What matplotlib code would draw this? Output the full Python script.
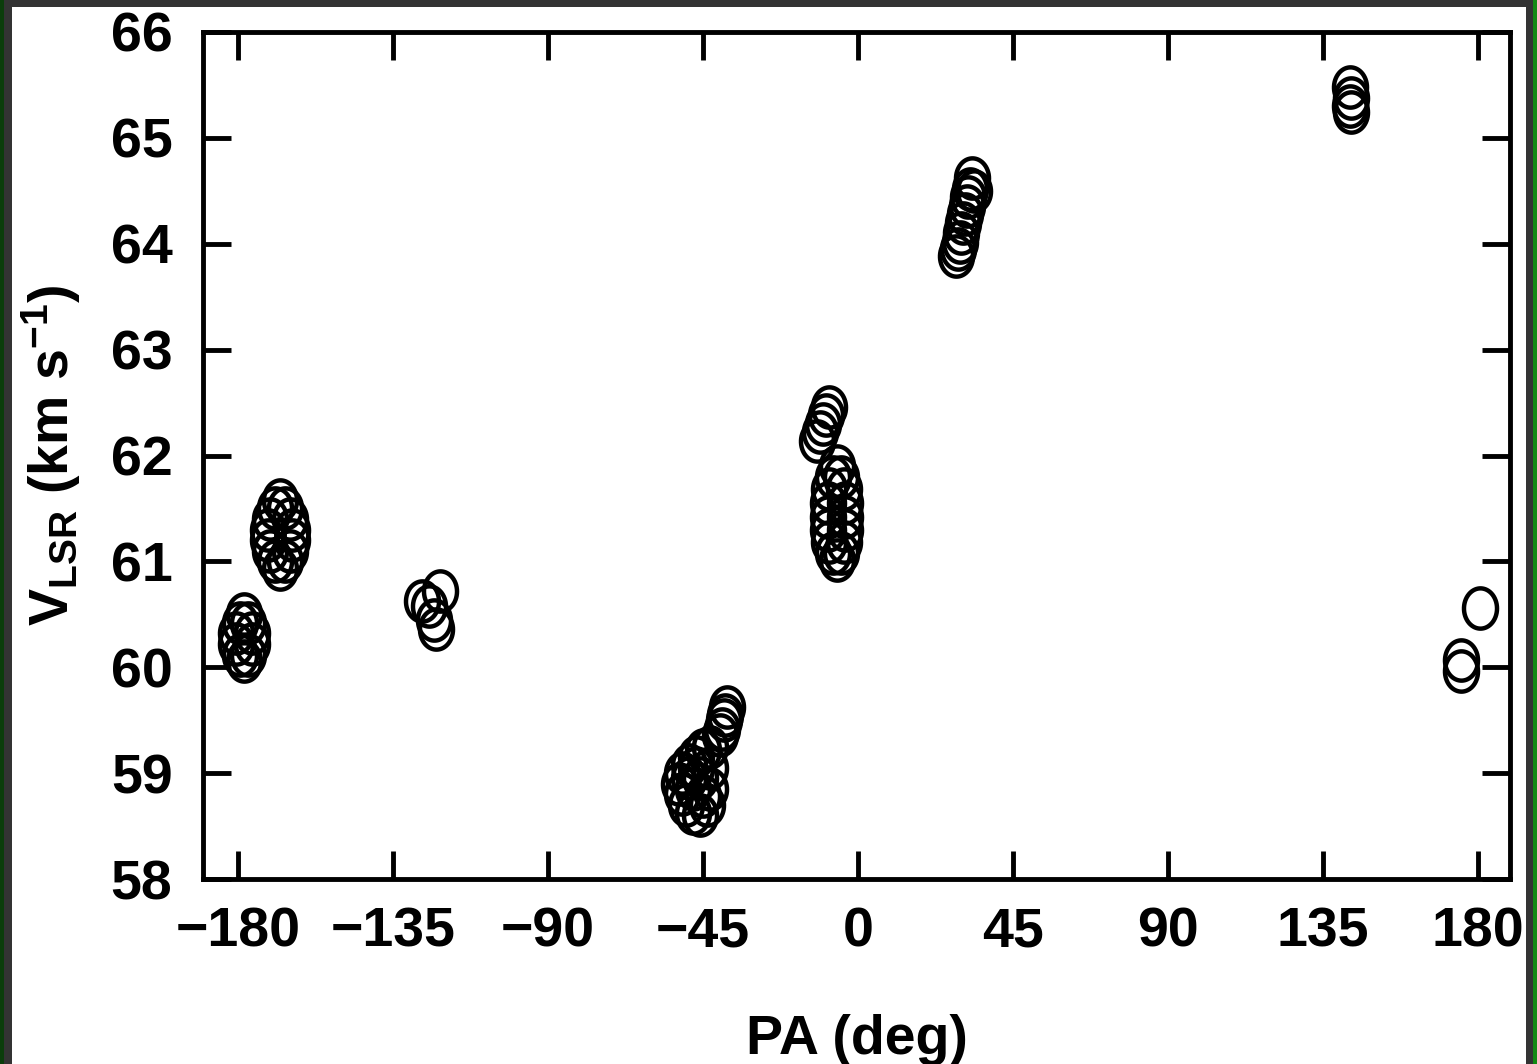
import matplotlib
matplotlib.use('Agg')
import numpy as np
import matplotlib.pyplot as plt
from matplotlib.patches import Rectangle
from matplotlib.path import Path

plt.rcParams['font.family'] = ['Liberation Sans', 'DejaVu Sans']
plt.rcParams['font.weight'] = 'bold'
plt.rcParams['mathtext.fontset'] = 'custom'
plt.rcParams['mathtext.rm'] = 'Liberation Sans:bold'
plt.rcParams['mathtext.it'] = 'Liberation Sans:bold'
plt.rcParams['mathtext.bf'] = 'Liberation Sans:bold'

# position angle (deg) and LSR velocity (km/s) of each maser spot
pa = [-178.3, -179.5, -177.1, -180.5, -176.1, -180.5, -176.1, -179.5, -177.1, -178.3,
      -167.8, -169.3, -166.3, -170.8, -164.8, -171.3, -164.3, -171.3, -164.3,
      -170.8, -164.8, -169.3, -166.3, -167.8,
      -121.5, -126.5, -124.5, -123.0, -122.5,
      -43.0, -45.0, -47.0, -49.0, -51.0, -52.0, -51.0, -50.0, -48.0, -46.0, -44.0, -43.0, -43.0,
      -46.0, -48.0, -47.0, -45.0, -49.0,
      -38.0, -38.5, -39.0, -39.5, -40.0,
      -8.5, -9.3, -10.2, -11.0, -11.8,
      -6.2, -7.4, -5.0, -8.4, -4.0, -8.7, -3.7, -8.7, -3.7, -8.7, -3.7, -8.4, -4.0,
      -7.4, -5.0, -6.2,
      33.7, 33.0, 32.5, 32.0, 31.5, 31.0, 30.5, 30.0, 29.5, 29.0, 28.5,
      142.9, 143.0, 142.8, 143.1,
      180.5, 175.1, 175.1]
vlsr = [60.50, 60.42, 60.42, 60.32, 60.32, 60.22, 60.22, 60.12, 60.12, 60.06,
        61.58, 61.50, 61.50, 61.40, 61.40, 61.30, 61.30, 61.20, 61.20,
        61.10, 61.10, 61.00, 61.00, 60.93,
        60.72, 60.63, 60.58, 60.45, 60.36,
        59.25, 59.22, 59.15, 59.08, 59.00, 58.90, 58.80, 58.70, 58.62, 58.60, 58.70, 58.85, 59.05,
        58.95, 58.85, 59.05, 58.78, 58.95,
        59.62, 59.55, 59.50, 59.42, 59.36,
        62.46, 62.38, 62.30, 62.22, 62.14,
        61.90, 61.80, 61.80, 61.68, 61.68, 61.55, 61.55, 61.42, 61.42, 61.30, 61.30, 61.18, 61.18,
        61.08, 61.08, 61.01,
        64.50, 64.62, 64.52, 64.44, 64.36, 64.28, 64.20, 64.10, 64.02, 63.95, 63.88,
        65.48, 65.38, 65.30, 65.24,
        60.56, 60.07, 59.96]

xticks = [-180, -135, -90, -45, 0, 45, 90, 135, 180]
yticks = [58, 59, 60, 61, 62, 63, 64, 65, 66]

W, H = 1537, 1064
fig = plt.figure(figsize=(W / 100, H / 100), dpi=100, facecolor='#333333')
# white page with dark frame and green edges
for x0, w, h, c in [(12, 1514, H - 7, 'white'), (0, 4, H, '#0b3d0b'), (1533, 4, H, '#138a13')]:
    fig.patches.append(Rectangle((x0 / W, 0), w / W, h / H, transform=fig.transFigure,
                                 facecolor=c, edgecolor='none', zorder=-10))

# slightly tall open ellipse, as in the original plot
t = np.linspace(0, 2 * np.pi, 60)
ellipse = Path(np.column_stack([0.82 * np.cos(t), np.sin(t)]), closed=True)

ax = fig.add_axes([203 / W, 1 - 879 / H, (1510 - 203) / W, (879 - 32) / H])
ax.set_facecolor('white')
ax.plot(pa, vlsr, ls='none', marker=ellipse, mfc='none', mec='black', ms=29, mew=3.2,
        clip_on=False)

ax.set_xlim(-190.2, 189.3)
ax.set_ylim(58, 66)
ax.set_xticks(xticks)
ax.set_yticks(yticks)
ax.tick_params(direction='in', length=20, width=3.5, top=True, right=True,
               labelsize=40, pad=20)
ax.tick_params(axis='y', pad=22)
for s in ax.spines.values():
    s.set_linewidth(3.5)

ax.set_xlabel('PA (deg)', fontsize=40, fontweight='bold', labelpad=40)
ax.set_ylabel(r'V$_{\mathrm{LSR}}$ (km s$^{-1}$)', fontsize=40, fontweight='bold', labelpad=20)

fig.savefig('out.png', dpi=100, facecolor=fig.get_facecolor())
